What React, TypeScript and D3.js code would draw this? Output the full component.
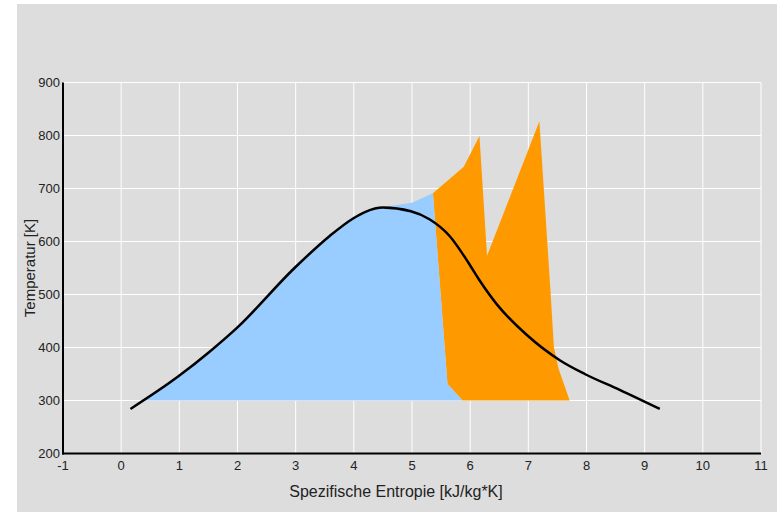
import React from "react";
import * as d3 from "d3";

const xTicks = [-1, 0, 1, 2, 3, 4, 5, 6, 7, 8, 9, 10, 11];
const yTicks = [200, 300, 400, 500, 600, 700, 800, 900];

// saturation curve (s, T)
const satS = [0.16, 0.99, 1.52, 1.99, 2.98, 3.58, 3.98, 4.2, 4.5, 4.98, 5.3, 5.65, 5.97, 6.16, 6.47, 6.97, 7.54, 7.97, 8.57, 9.26];
const satT = [284, 346, 392, 437, 550, 610, 643, 656, 664, 657, 642, 610, 560, 527, 480, 424, 376, 350, 320, 284];

// blue region: curved top (left part)
const blueCurveS = [0.4, 0.99, 1.52, 1.99, 2.98, 3.58, 3.98, 4.2, 4.5];
const blueCurveT = [300, 346, 392, 437, 550, 610, 643, 656, 665];
// blue region: straight part
const blueLineS = [5.0, 5.36, 5.61, 5.87];
const blueLineT = [673, 691, 331, 300];

// orange region
const orangeS = [5.36, 5.89, 6.16, 6.29, 7.19, 7.38, 7.44, 7.52, 7.6, 7.71, 5.87, 5.61];
const orangeT = [691, 741, 799, 573, 827, 508, 400, 360, 335, 300, 300, 331];

const W = 777;
const H = 512;

export default function App() {
  const x = d3.scaleLinear().domain([-1, 11]).range([63, 761]);
  const y = d3.scaleLinear().domain([200, 900]).range([453.5, 82.5]);

  const smooth = d3
    .line<[number, number]>()
    .x((d) => x(d[0]))
    .y((d) => y(d[1]))
    .curve(d3.curveMonotoneX);

  const satPts: [number, number][] = satS.map((s, i) => [s, satT[i]]);
  const satPath = smooth(satPts) as string;

  const bluePts: [number, number][] = blueCurveS.map((s, i) => [s, blueCurveT[i]]);
  let bluePath = smooth(bluePts) as string;
  blueLineS.forEach((s, i) => {
    bluePath += `L${x(s)},${y(blueLineT[i])}`;
  });
  bluePath += "Z";

  const orangePts: [number, number][] = orangeS.map((s, i) => [s, orangeT[i]]);
  const orangePath =
    (d3
      .line<[number, number]>()
      .x((d) => x(d[0]))
      .y((d) => y(d[1]))(orangePts) as string) + "Z";

  const font = "'Liberation Sans', Arial, sans-serif";

  return (
    <svg
      width={W}
      height={H}
      style={{ position: "absolute", left: 0, top: 0 }}
      fontFamily={font}
    >
      <rect x={17} y={4} width={W - 17} height={H - 4} fill="#dddddd" />
      {/* grid */}
      {xTicks.map((t) => (
        <line key={"gx" + t} x1={x(t)} x2={x(t)} y1={y(900)} y2={y(200)} stroke="#ffffff" strokeWidth={1} />
      ))}
      {yTicks.map((t) => (
        <line key={"gy" + t} x1={x(-1)} x2={x(11)} y1={y(t)} y2={y(t)} stroke="#ffffff" strokeWidth={1} />
      ))}
      <path d={orangePath} fill="#ff9900" />
      <path d={bluePath} fill="#99ccff" />
      <path d={satPath} fill="none" stroke="#000" strokeWidth={2.5} />
      {/* axes */}
      <line x1={x(-1)} x2={x(-1)} y1={y(900)} y2={y(200) + 1} stroke="#000" strokeWidth={2} />
      <line x1={x(-1) - 1} x2={x(11)} y1={y(200)} y2={y(200)} stroke="#000" strokeWidth={2} />
      {yTicks.map((t) => (
        <text key={"ty" + t} x={60} y={y(t)} dy="0.35em" textAnchor="end" fontSize={13} fill="#222">
          {t}
        </text>
      ))}
      {xTicks.map((t) => (
        <text key={"tx" + t} x={x(t)} y={470} textAnchor="middle" fontSize={13} fill="#222">
          {t}
        </text>
      ))}
      <text x={396} y={497} textAnchor="middle" fontSize={16} fill="#222">
        Spezifische Entropie [kJ/kg*K]
      </text>
      <text
        transform={`translate(35, 268) rotate(-90)`}
        textAnchor="middle"
        fontSize={15}
        fill="#222"
      >
        Temperatur [K]
      </text>
    </svg>
  );
}
